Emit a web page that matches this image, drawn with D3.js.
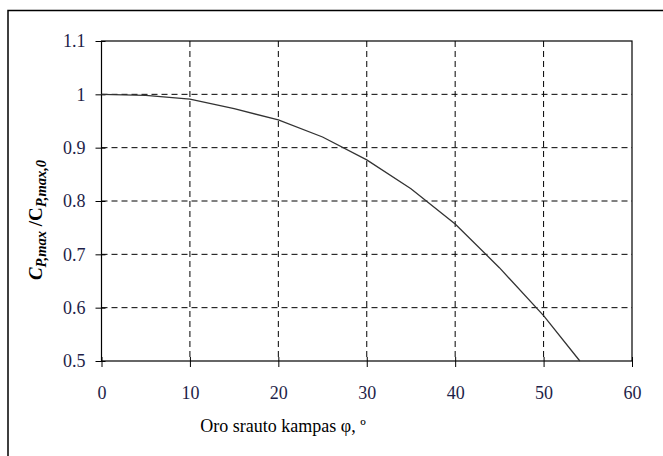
<!doctype html>
<html>
<head>
<meta charset="utf-8">
<title>Cp,max ratio</title>
<style>
  body { margin: 0; background: #fff; }
</style>
</head>
<body>
<div id="chart"></div>
<script src="https://d3js.org/d3.v7.min.js"></script>
<script>
// data
var angles = [0, 5, 10, 15, 20, 25, 30, 35, 40, 45, 50, 54.1];
var ratios = [1.0, 0.998, 0.991, 0.973, 0.952, 0.92, 0.877, 0.823, 0.757, 0.675, 0.585, 0.5];
var xTicks = [0, 10, 20, 30, 40, 50, 60];
var yTicks = [0.5, 0.6, 0.7, 0.8, 0.9, 1, 1.1];

var W = 663, H = 456;
var m = {left: 101.5, right: 31, top: 41, bottom: 95};
var serif = "Liberation Serif, Times New Roman, serif";

var svg = d3.select("#chart").append("svg")
    .attr("width", W).attr("height", H)
    .attr("font-family", serif);

// outer frame
svg.append("rect")
    .attr("x", 8).attr("y", 10.5)
    .attr("width", W).attr("height", H)
    .attr("fill", "none").attr("stroke", "#000").attr("stroke-width", 1.5);

var x = d3.scaleLinear().domain([0, 60]).range([m.left, W - m.right]);
var y = d3.scaleLinear().domain([0.5, 1.1]).range([H - m.bottom, m.top]);

// dashed grid
var g = svg.append("g");
g.selectAll("line.vg").data(xTicks.slice(1, -1)).enter().append("line")
    .attr("x1", d => x(d)).attr("x2", d => x(d))
    .attr("y1", y(1.1)).attr("y2", y(0.5))
    .attr("stroke", "#000").attr("stroke-dasharray", "6,4");
g.selectAll("line.hg").data(yTicks.slice(1, -1)).enter().append("line")
    .attr("x1", x(0)).attr("x2", x(60))
    .attr("y1", d => y(d)).attr("y2", d => y(d))
    .attr("stroke", "#000").attr("stroke-dasharray", "6,4");

// axes
var xAxis = svg.append("g").attr("transform", "translate(0," + y(0.5) + ")")
    .call(d3.axisBottom(x).tickValues(xTicks).tickSize(6).tickPadding(19).tickFormat(d3.format("d")));
var yAxis = svg.append("g").attr("transform", "translate(" + x(0) + ",0)")
    .call(d3.axisLeft(y).tickValues(yTicks).tickSize(6).tickPadding(10).tickFormat(d => d === 1 ? "1" : d3.format(".1f")(d)));
xAxis.selectAll(".tick line").attr("y1", -4);
yAxis.selectAll(".tick line").attr("x1", 4);
[xAxis, yAxis].forEach(function(a) {
  a.attr("font-family", serif);
  a.select(".domain").remove();
  a.selectAll("line").attr("stroke", "#000");
  a.selectAll("text").attr("font-size", 18).attr("fill", "#1e1e48");
});

// plot box
svg.append("rect")
    .attr("x", x(0)).attr("y", y(1.1))
    .attr("width", x(60) - x(0)).attr("height", y(0.5) - y(1.1))
    .attr("fill", "none").attr("stroke", "#000").attr("stroke-width", 1.2);

// the curve
var line = d3.line().x((d, i) => x(angles[i])).y(d => y(d));
svg.append("path").datum(ratios)
    .attr("d", line)
    .attr("fill", "none").attr("stroke", "#333").attr("stroke-width", 1.3);

// x title
svg.append("text")
    .attr("x", 283).attr("y", 432)
    .attr("text-anchor", "middle").attr("font-size", 18).attr("fill", "#000")
    .text("Oro srauto kampas \u03c6, \u00ba");

// y title
var yt = svg.append("text")
    .attr("transform", "translate(42,220) rotate(-90)")
    .attr("text-anchor", "middle").attr("font-size", 19)
    .attr("font-weight", "bold").attr("fill", "#000");
yt.append("tspan").attr("font-style", "italic").text("C");
yt.append("tspan").attr("font-style", "italic").attr("font-size", 14.5).attr("dy", 4).text("P,max");
yt.append("tspan").attr("dy", -4).text(" /C");
yt.append("tspan").attr("font-style", "italic").attr("font-size", 14.5).attr("dy", 4).text("P,max,0");
</script>
</body>
</html>
